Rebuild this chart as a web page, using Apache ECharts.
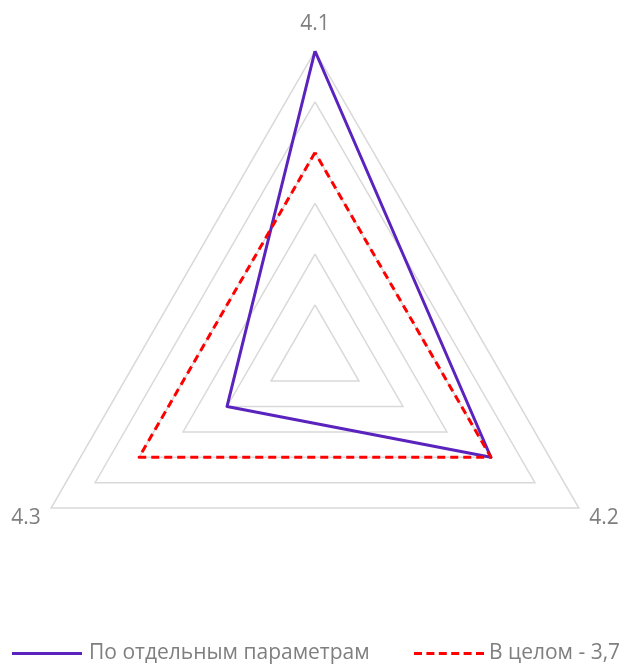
<!DOCTYPE html>
<html>
<head>
<meta charset="utf-8">
<script src="https://cdn.jsdelivr.net/npm/echarts@6/dist/echarts.min.js"></script>
<style>html,body{margin:0;padding:0;background:#fff}#c{width:624px;height:664px}</style>
</head>
<body>
<div id="c"></div>
<script>
const categories = ['4.1', '4.2', '4.3'];
const scaleMax = 6;
const seriesNames = ['По отдельным параметрам', 'В целом - 3,7'];
const valuesDetail = [6, 4, 2];
const valuesOverall = [4, 4, 4];

// ECharts draws radar indicators counter-clockwise; reference goes clockwise
const order = [0, 2, 1];
const indicators = order.map(i => ({ name: categories[i], max: scaleMax, min: 0 }));
const reorder = arr => order.map(i => arr[i]);

const purple = '#5A23BE';
const red = '#FF0000';
const textColor = '#7F7F7F';
const font = 'Open Sans';

const dashIcon = 'path://M0,0h8v3h-8z M12.4,0h8v3h-8z M24.8,0h8v3h-8z M37.2,0h8v3h-8z M49.6,0h8v3h-8z M62,0h8v3h-8z';

const chart = echarts.init(document.getElementById('c'));
chart.setOption({
  animation: false,
  legend: [
    {
      data: [{ name: seriesNames[0], icon: 'rect', itemStyle: { color: purple } }],
      left: 12, top: 643, padding: 0, itemWidth: 70, itemHeight: 3,
      textStyle: { color: textColor, fontSize: 21, fontFamily: font, padding: [0, 0, 0, 2] }
    },
    {
      data: [{ name: seriesNames[1], icon: dashIcon, itemStyle: { color: red } }],
      left: 414, top: 643, padding: 0, itemWidth: 70, itemHeight: 3,
      textStyle: { color: textColor, fontSize: 21, fontFamily: font }
    }
  ],
  radar: {
    center: [315, 355.7],
    radius: 304.7,
    startAngle: 90,
    shape: 'polygon',
    splitNumber: 6,
    indicator: indicators,
    axisName: {
      color: textColor, fontSize: 21, fontFamily: font, padding: [0, 0, 4, 0],
      formatter: (name) => name === categories[0] ? name : '{s|}\n{t|' + name + '}',
      rich: {
        s: { height: 12, lineHeight: 12 },
        t: { color: textColor, fontSize: 21, fontFamily: font }
      }
    },
    nameGap: 12,
    axisLine: { show: false },
    axisTick: { show: false },
    axisLabel: { show: false },
    splitArea: { show: false },
    splitLine: { lineStyle: { color: '#D9D9D9', width: 1.5 } }
  },
  series: [{
    type: 'radar',
    symbol: 'none',
    data: [
      { name: seriesNames[0], value: reorder(valuesDetail),
        lineStyle: { color: purple, width: 3 }, itemStyle: { color: purple } },
      { name: seriesNames[1], value: reorder(valuesOverall),
        lineStyle: { color: red, width: 3, type: [8, 5] }, itemStyle: { color: red } }
    ]
  }]
});
</script>
</body>
</html>
